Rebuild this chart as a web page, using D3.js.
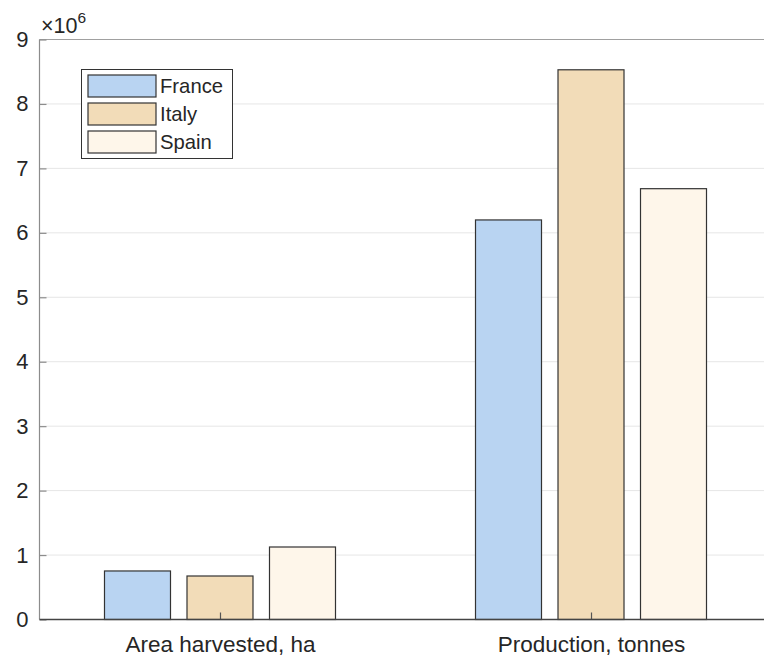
<!DOCTYPE html>
<html>
<head>
<meta charset="utf-8">
<script src="https://cdn.jsdelivr.net/npm/d3@7"></script>
<style>
  html, body { margin: 0; padding: 0; background: #fff; }
  svg { display: block; }
  text { font-family: "Liberation Sans", Arial, Helvetica, sans-serif; fill: #262626; }
</style>
</head>
<body>
<svg id="chart" width="764" height="660"></svg>
<script>
const categories = ["Area harvested, ha", "Production, tonnes"];
const seriesNames = ["France", "Italy", "Spain"];
const France = [0.753e6, 6.20e6];
const Italy = [0.675e6, 8.53e6];
const Spain = [1.125e6, 6.685e6];
const seriesValues = [France, Italy, Spain];
const yTicks = [0, 1, 2, 3, 4, 5, 6, 7, 8, 9];
const colors = ["#b9d4f2", "#f2dcb8", "#fef6ea"];

const svg = d3.select("#chart");
const mLeft = 39.5, mRight = 771.5, mTop = 39.5, mBottom = 619.5;

const x = d3.scalePoint().domain(categories).range([mLeft, mRight]).padding(0.4865);
const y = d3.scaleLinear().domain([0, 9e6]).range([mBottom, mTop]);
const barW = 66, barStep = 82.5;
const offset = d3.scaleLinear().domain([0, seriesNames.length - 1]).range([-barStep, barStep]);

// grid
svg.append("g").selectAll("line").data(yTicks.filter(d => d > 0)).join("line")
  .attr("x1", mLeft).attr("x2", mRight)
  .attr("y1", d => y(d * 1e6)).attr("y2", d => y(d * 1e6))
  .attr("stroke", "#e6e6e6").attr("stroke-width", 1);

// bars
seriesValues.forEach((vals, si) => {
  svg.append("g").selectAll("rect").data(vals).join("rect")
    .attr("x", (d, i) => x(categories[i]) + offset(si) - barW / 2)
    .attr("y", d => y(d))
    .attr("width", barW)
    .attr("height", d => mBottom - y(d))
    .attr("fill", colors[si])
    .attr("stroke", "#333")
    .attr("stroke-width", 1.2);
});

// axes frame
svg.append("line").attr("x1", mLeft).attr("x2", mRight).attr("y1", mTop).attr("y2", mTop)
  .attr("stroke", "#a0a0a0").attr("stroke-width", 1.2);
svg.append("line").attr("x1", mLeft).attr("x2", mLeft).attr("y1", mTop).attr("y2", mBottom)
  .attr("stroke", "#8c8c8c").attr("stroke-width", 1.2);

// y axis ticks + labels
const yAxis = d3.axisLeft(y).tickValues(yTicks.map(d => d * 1e6)).tickSize(-7)
  .tickFormat(d => d3.format("d")(d / 1e6)).tickPadding(11);
const gy = svg.append("g").attr("transform", `translate(${mLeft},0)`).call(yAxis);
gy.select(".domain").remove();
gy.selectAll(".tick line").attr("stroke", "#8c8c8c").attr("stroke-width", 1.2);
gy.selectAll(".tick text").attr("font-size", "22px").attr("fill", "#262626")
  .attr("font-family", "Liberation Sans, Arial, sans-serif");

// x axis ticks + labels
const xAxis = d3.axisBottom(x).tickSize(-7).tickPadding(17);
const gx = svg.append("g").attr("transform", `translate(0,${mBottom})`).call(xAxis);
gx.select(".domain").remove();
gx.selectAll(".tick line").attr("stroke", "#555").attr("stroke-width", 1.2);
gx.selectAll(".tick text").attr("font-size", "22.5px").attr("fill", "#262626")
  .attr("font-family", "Liberation Sans, Arial, sans-serif");

// baseline
svg.append("line").attr("x1", mLeft).attr("x2", mRight).attr("y1", mBottom).attr("y2", mBottom)
  .attr("stroke", "#444").attr("stroke-width", 1.4);

// exponent label
const expo = svg.append("text").attr("x", 41).attr("y", 33).attr("font-size", "21.5px");
expo.append("tspan").text("\u00d710");
expo.append("tspan").attr("dy", -10).attr("font-size", "15.5px").text("6");

// legend
const lg = svg.append("g");
lg.append("rect").attr("x", 81.5).attr("y", 69.5).attr("width", 151).attr("height", 89)
  .attr("fill", "#fff").attr("stroke", "#333").attr("stroke-width", 1);
seriesNames.forEach((name, i) => {
  const yy = 75 + i * 28;
  lg.append("rect").attr("x", 88).attr("y", yy).attr("width", 68).attr("height", 22)
    .attr("fill", colors[i]).attr("stroke", "#333").attr("stroke-width", 1.2);
  lg.append("text").attr("x", 160).attr("y", yy + 11).attr("dy", "0.36em")
    .attr("font-size", "20.25px").text(name);
});
</script>
</body>
</html>
